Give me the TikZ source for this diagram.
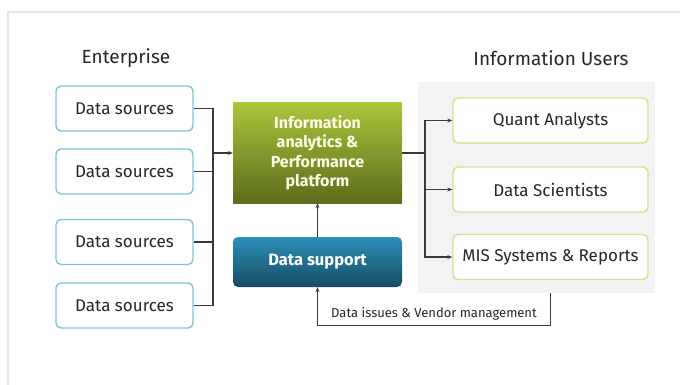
\documentclass[tikz,border=0pt]{standalone}
\usepackage{fontspec}
\setmainfont{Fira Sans}
\usetikzlibrary{arrows.meta}
\definecolor{srcline}{HTML}{7FC3DA}
\definecolor{userline}{HTML}{D3E28C}
\definecolor{panelgray}{HTML}{F3F3F3}
\definecolor{cardline}{HTML}{E6E6EC}
\definecolor{conncol}{HTML}{3A3A3A}
\tikzset{
  >={Stealth[length=5pt,width=4pt]},
  srcbox/.style={
    rectangle,
    rounded corners=5pt,
    draw=srcline, line width=1.4pt,
    fill=white,
    minimum width=137pt,
    minimum height=45pt,
    font=\fontsize{17}{20}\selectfont,
    text=black!85},
  userbox/.style={
    rectangle,
    rounded corners=5pt,
    draw=userline, line width=1.4pt,
    fill=white,
    minimum width=195pt,
    minimum height=45pt,
    font=\fontsize{17}{20}\selectfont,
    text=black!85},
  platform/.style={
    rectangle,
    top color={rgb,255:red,170;green,198;blue,60},
    bottom color={rgb,255:red,92;green,107;blue,28},
    minimum width=169pt,
    minimum height=100pt,
    align=center,
    text=white!90!yellow,
    font=\fontsize{16}{19.5}\selectfont\bfseries},
  supportbox/.style={
    rectangle,
    rounded corners=5pt,
    top color={rgb,255:red,44;green,143;blue,184},
    bottom color={rgb,255:red,24;green,76;blue,100},
    minimum width=169pt,
    minimum height=50pt,
    text=white,
    font=\fontsize{16.5}{20}\selectfont\bfseries},
  heading/.style={font=\fontsize{19}{22}\selectfont, text=black!85},
  conn/.style={draw=conncol, line width=1.1pt},
}
\begin{document}
\begin{tikzpicture}[x=1pt,y=-1pt]
\useasboundingbox (0,0) rectangle (680,385);
% card edge
\draw[cardline, line width=1.2pt] (8,385) -- (8,12) -- (680,12);
% headings
\node[heading] (enterprise) at (126,58) {Enterprise};
\node[heading] (infousers) at (551,58) {Information Users};
% panel behind the users
\node[fill=panelgray, minimum width=237pt, minimum height=211pt] (panel) at (536.5,187.5) {};
% sources
\foreach \n/\y in {1/108.5, 2/171.5, 3/242, 4/305.5}{
  \node[srcbox] (src\n) at (124.5,\y) {Data sources};
}
\node[platform] (platform) at (317.5,153) {Information\\analytics \&\\Performance\\platform};
\node[supportbox] (support) at (317.5,262) {Data support};
% users
\node[userbox] (quant) at (550.5,120.5) {Quant Analysts};
\node[userbox] (scient) at (550.5,189.5) {Data Scientists};
\node[userbox] (mis) at (550.5,257) {MIS Systems \& Reports};
% connectors
\coordinate (bus) at (213,0);
\coordinate (fork) at (425,0);
\draw[conn] (src1.east) -| (bus |- src4.east) -- (src4.east);
\draw[conn] (src2.east) -- (bus |- src2.east);
\draw[conn] (src3.east) -- (bus |- src3.east);
\draw[conn,->] (bus |- platform.west) -- (platform.west);
\draw[conn,->] (platform.east) -| (fork |- quant.west) -- (quant.west);
\draw[conn,->] (fork |- quant.west) |- (mis.west);
\draw[conn,->] (fork |- scient.west) -- (scient.west);
\draw[conn,->] (support.north) -- (platform.south);
\draw[conn,->] (mis |- panel.south) -- ++(0,32) -| (support.south)
  node[pos=0.25, above=1pt, font=\fontsize{13}{15}\selectfont, text=black!85] {Data issues \& Vendor management};
\end{tikzpicture}
\end{document}
